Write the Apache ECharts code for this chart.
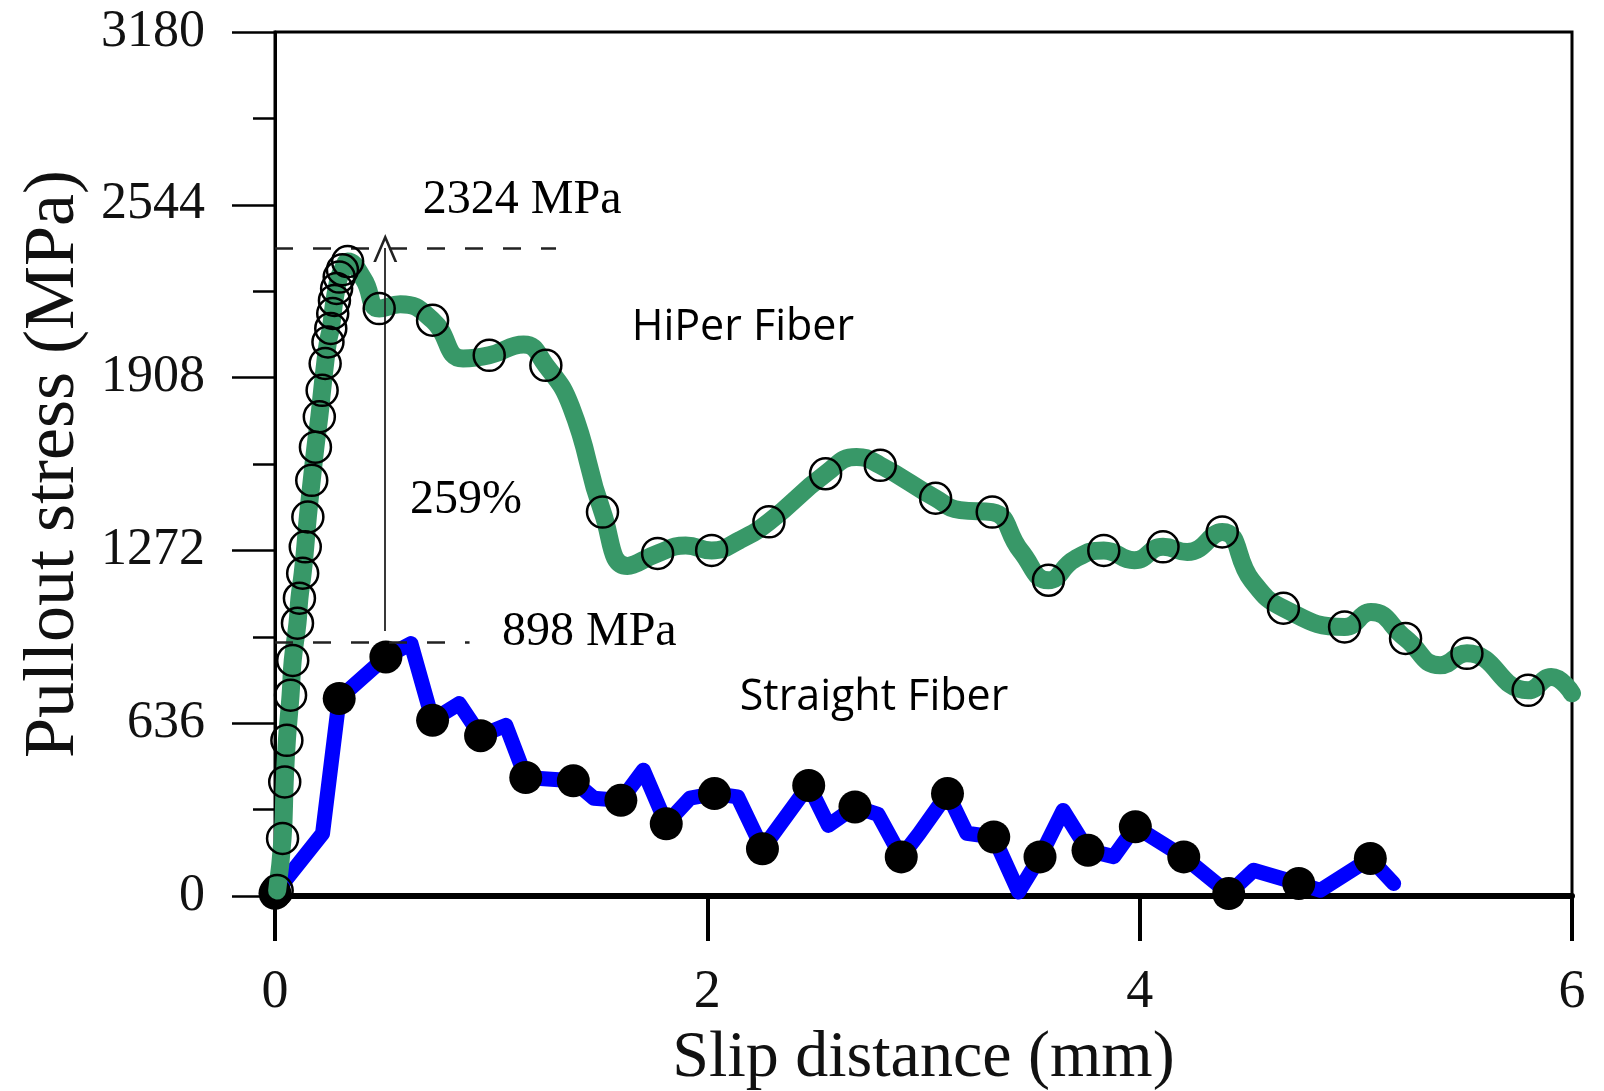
<!DOCTYPE html>
<html>
<head>
<meta charset="utf-8">
<title>Pullout stress vs slip distance</title>
<script src="https://cdn.jsdelivr.net/npm/echarts@6/dist/echarts.min.js"></script>
<style>
  html, body { margin: 0; padding: 0; background: #fff; }
  #chart { width: 1604px; height: 1091px; }
</style>
</head>
<body>
<div id="chart"></div>
<script>
// axis ranges / ticks (MPa, mm)
const stressMax = 3180;
const stressStep = 636;
const slipMax = 6;
const slipStep = 2;

// HiPer fiber: traced curve and the open circle markers on it
const hiperCurve = [
  [0.01, 20], [0.035, 212], [0.045, 420], [0.055, 573], [0.072, 739], [0.082, 867],
  [0.104, 1004], [0.113, 1096], [0.128, 1188], [0.14, 1285], [0.152, 1395], [0.17, 1530],
  [0.187, 1652], [0.205, 1764], [0.218, 1861], [0.232, 1960], [0.245, 2039], [0.258, 2089],
  [0.267, 2144], [0.275, 2192], [0.285, 2236], [0.297, 2278], [0.312, 2305], [0.336, 2335],
  [0.41, 2270], [0.482, 2162], [0.58, 2178], [0.729, 2119], [0.87, 1978], [0.991, 1990],
  [1.15, 2030], [1.253, 1953], [1.37, 1800], [1.515, 1413], [1.63, 1215], [1.77, 1261],
  [1.9, 1290], [2.02, 1272], [2.15, 1310], [2.285, 1377], [2.547, 1554], [2.69, 1616],
  [2.8, 1585], [3.056, 1464], [3.17, 1420], [3.318, 1413], [3.45, 1270], [3.578, 1162],
  [3.7, 1240], [3.834, 1272], [3.975, 1236], [4.108, 1285], [4.22, 1266], [4.382, 1340],
  [4.52, 1160], [4.665, 1059], [4.948, 990], [5.07, 1045], [5.23, 948], [5.39, 849],
  [5.514, 893], [5.797, 757], [5.904, 806], [6.0, 746]
];
const hiperMarkers = [
  [0.01, 20], [0.035, 212], [0.045, 420], [0.055, 573], [0.072, 739], [0.082, 867],
  [0.104, 1004], [0.113, 1096], [0.128, 1188], [0.14, 1285], [0.152, 1395], [0.17, 1530],
  [0.187, 1652], [0.205, 1764], [0.218, 1861], [0.232, 1960], [0.245, 2039], [0.258, 2089],
  [0.267, 2144], [0.275, 2192], [0.285, 2236], [0.297, 2278], [0.312, 2305], [0.336, 2335],
  [0.482, 2162], [0.729, 2119], [0.991, 1990], [1.253, 1953], [1.515, 1413], [1.77, 1261],
  [2.02, 1272], [2.285, 1377], [2.547, 1554], [2.8, 1585], [3.056, 1464], [3.318, 1413],
  [3.578, 1162], [3.834, 1272], [4.108, 1285], [4.382, 1340], [4.665, 1059], [4.948, 990],
  [5.23, 948], [5.514, 893], [5.797, 757]
];

// Straight fiber: polyline and the filled markers
const straightCurve = [
  [0, 10], [0.22, 230], [0.297, 727], [0.513, 880], [0.629, 929], [0.729, 647],
  [0.852, 708], [0.951, 590], [1.068, 628], [1.16, 436], [1.38, 424], [1.475, 360],
  [1.6, 352], [1.704, 463], [1.81, 266], [1.92, 360], [2.033, 377], [2.14, 365],
  [2.255, 174], [2.469, 407], [2.56, 260], [2.683, 328], [2.79, 300], [2.897, 144],
  [2.98, 230], [3.111, 377], [3.2, 231], [3.325, 217], [3.44, 15], [3.539, 144],
  [3.646, 315], [3.761, 168], [3.88, 145], [3.98, 255], [4.204, 144], [4.412, 9],
  [4.527, 95], [4.736, 46], [4.836, 21], [5.067, 138], [5.175, 46]
];
const straightMarkers = [
  [0, 10], [0.297, 727], [0.513, 880], [0.729, 647], [0.951, 590], [1.16, 436],
  [1.38, 424], [1.6, 352], [1.81, 266], [2.033, 377], [2.255, 174], [2.469, 407],
  [2.683, 328], [2.897, 144], [3.111, 377], [3.325, 217], [3.539, 144], [3.761, 168],
  [3.98, 255], [4.204, 144], [4.412, 9], [4.736, 46], [5.067, 138]
];

// annotations: text, slip, stress
const noteTexts = ['2324 MPa', '259%', '898 MPa', 'HiPer Fiber', 'Straight Fiber'];
const noteSlip = [0.684, 0.624, 1.05, 1.65, 2.15];
const noteStress = [2560, 1455, 970, 2090, 730];
const noteSerif = [true, true, true, false, false];
// dashed peak guides (as drawn) and the arrow between them
const peakGuides = [[2385, 1.3], [935, 0.9]];
const arrowSlip = 0.51;

const serif = "'Liberation Serif', 'DejaVu Serif', serif";
const sans = "'Open Sans', 'Noto Sans', sans-serif";
const ink = '#111';

const chart = echarts.init(document.getElementById('chart'));

const notes = noteTexts.map((t, i) => ({
  name: t,
  value: [noteSlip[i], noteStress[i]],
  label: {
    fontFamily: noteSerif[i] ? serif : sans,
    fontSize: noteSerif[i] ? 48 : 43,
    color: '#000',
    opacity: 1
  }
}));

const option = {
  animation: false,
  backgroundColor: '#fff',
  grid: {
    left: 275, right: 32, top: 32, bottom: 195,
    containLabel: false,
    outerBoundsMode: 'none',
    show: true, borderColor: '#000', borderWidth: 3
  },
  xAxis: {
    type: 'value',
    min: 0, max: slipMax, interval: slipStep,
    name: 'Slip distance (mm)',
    nameLocation: 'middle',
    nameGap: 130,
    nameTextStyle: { fontFamily: serif, fontSize: 66, color: ink },
    axisLine: { lineStyle: { color: '#000', width: 6 } },
    axisTick: { inside: false, length: 45, lineStyle: { color: '#000', width: 4 } },
    axisLabel: { margin: 70, fontFamily: serif, fontSize: 54, color: ink, lineHeight: 54 },
    splitLine: { show: false }
  },
  yAxis: {
    type: 'value',
    min: 0, max: stressMax, interval: stressStep,
    name: 'Pullout stress (MPa)',
    nameLocation: 'middle',
    nameGap: 185,
    nameTextStyle: { fontFamily: serif, fontSize: 72, color: ink },
    axisLine: { show: true, lineStyle: { color: '#000', width: 3 } },
    axisTick: { inside: false, length: 43, lineStyle: { color: '#000', width: 2.5 } },
    minorTick: { show: true, splitNumber: 2, length: 22, lineStyle: { color: '#000', width: 2.5 } },
    axisLabel: { margin: 70, fontFamily: serif, fontSize: 52, color: ink, formatter: v => String(v) },
    splitLine: { show: false }
  },
  series: [
    {
      name: 'Straight Fiber',
      type: 'line',
      z: 2,
      data: straightCurve,
      symbol: 'none',
      clip: false,
      lineStyle: { color: '#0000ff', width: 15, join: 'round', cap: 'round' }
    },
    {
      name: 'Straight markers',
      type: 'scatter',
      z: 3,
      data: straightMarkers,
      symbolSize: 33,
      clip: false,
      itemStyle: { color: '#000', opacity: 1 }
    },
    {
      name: 'HiPer Fiber',
      type: 'line',
      z: 4,
      data: hiperCurve,
      symbol: 'none',
      smooth: 0.5,
      clip: false,
      lineStyle: { color: '#389868', width: 18, join: 'round', cap: 'round' }
    },
    {
      name: 'HiPer markers',
      type: 'scatter',
      z: 5,
      data: hiperMarkers,
      symbolSize: 31,
      clip: false,
      itemStyle: { color: 'rgba(0,0,0,0)', borderColor: '#000', borderWidth: 2.5, opacity: 1 }
    },
    {
      name: 'notes',
      type: 'scatter',
      z: 6,
      data: notes,
      symbolSize: 0,
      clip: false,
      itemStyle: { color: '#000' },
      label: { show: true, position: 'right', distance: 0, formatter: '{b}' },
      markLine: {
        silent: true,
        animation: false,
        label: { show: false },
        data: peakGuides.map(g => [
          { coord: [0, g[0]], symbol: 'none', lineStyle: { type: [18, 20], color: '#222', width: 2.5 } },
          { coord: [g[1], g[0]], symbol: 'none' }
        ]).concat([[
          { coord: [arrowSlip, 975], symbol: 'none', lineStyle: { type: 'solid', color: '#222', width: 1.8 } },
          { coord: [arrowSlip, peakGuides[0][0]], symbol: 'path://M0,12 L6,0 L12,12 L10.6,12 L6,2.8 L1.4,12 Z', symbolSize: [24, 28] }
        ]])
      }
    }
  ]
};

chart.setOption(option);
window.addEventListener('resize', () => chart.resize());
</script>
</body>
</html>
